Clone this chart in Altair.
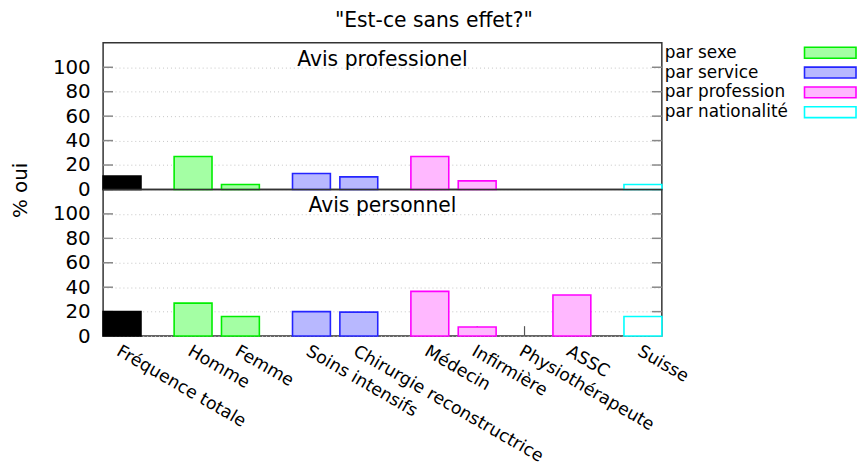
import json
import altair as alt
import pandas as pd

# ---------------- data ----------------
labels = ["Fréquence totale", "Homme", "Femme", "Soins intensifs",
          "Chirurgie reconstructrice", "Médecin", "Infirmière",
          "Physiothérapeute", "ASSC", "Suisse"]
groups = ["total", "par sexe", "par sexe", "par service", "par service",
          "par profession", "par profession", "par profession", "par profession",
          "par nationalité"]
avis_pro = [11, 27, 4, 13, 10.3, 27, 7, 0, 0, 4]
avis_perso = [20, 27, 16, 20, 19.6, 36.6, 7.4, 0, 33.6, 16]

group_names = ["total", "par sexe", "par service", "par profession", "par nationalité"]
fills = ["#000000", "#a4ffa4", "#b8b8ff", "#ffb8ff", "#ffffff"]
strokes = ["#000000", "#00ee00", "#2424ff", "#ff00ff", "#00ffff"]
legend_items = group_names[1:]
y_ticks = [0, 20, 40, 60, 80, 100]
panel_titles = ["Avis professionel", "Avis personnel"]
main_title = '"Est-ce sans effet?"'
y_title = "% oui"

# x positions (gap of 1.5 between groups, 1 inside a group)
pos = []
p = 0.0
for i, g in enumerate(groups):
    if i > 0:
        p += 1.0 if g == groups[i - 1] else 1.5
    pos.append(p)

df = pd.DataFrame({"label": labels, "group": groups, "pos": pos,
                   "pro": avis_pro, "perso": avis_perso})
ticks_df = pd.DataFrame({"t": y_ticks})
leg_df = pd.DataFrame({"group": legend_items})

label_map = json.dumps({f"{v:g}": l for v, l in zip(pos, labels)}, ensure_ascii=False)

W, H = 564, 148
FONT = "DejaVu Sans"

xscale = alt.Scale(domain=[-0.4, 11.4], nice=False, zero=False)
yscale = alt.Scale(domain=[0, 120], nice=False)
fill_scale = alt.Scale(domain=group_names, range=fills)
stroke_scale = alt.Scale(domain=group_names, range=strokes)


def make_yaxis(title):
    return alt.Axis(values=y_ticks, grid=True, gridDash=[1, 3], gridColor="#c4c4c4",
                    ticks=False, domain=False, labelFontSize=20, labelPadding=13,
                    labelColor="black", title=title, titleFontSize=20,
                    titleFontWeight="normal", titleColor="black", titleAngle=270,
                    titleX=-77, titleY=148.5, titleAlign="center",
                    titleBaseline="alphabetic")


def make_xaxis():
    return alt.Axis(values=pos, labelExpr=label_map + "[datum.value]", labelAngle=30,
                    labelAlign="left", labelBaseline="top", labelPadding=6,
                    labelFontSize=17.5, labelColor="black", labelOverlap=False,
                    labelFlush=False, labelBound=False, labelLimit=1000,
                    ticks=False, domain=False, grid=False, title=None)


def panel(field, title, bottom, ytitle, with_legend):
    yaxis = make_yaxis(ytitle)
    xaxis = make_xaxis() if bottom else None
    yax_other = None if with_legend else yaxis

    left_ticks = alt.Chart(ticks_df).mark_rule(color="#888888", strokeWidth=1.5).encode(
        y=alt.Y("t:Q", scale=yscale, axis=yaxis), x=alt.value(0), x2=alt.value(10))
    right_ticks = alt.Chart(ticks_df).mark_rule(color="#888888", strokeWidth=1.5).encode(
        y=alt.Y("t:Q", scale=yscale, axis=yax_other), x=alt.value(W - 10), x2=alt.value(W))

    bars = alt.Chart(df).transform_filter(f"datum.{field} > 0").transform_calculate(
        lo="datum.pos - 0.4", hi="datum.pos + 0.4"
    ).mark_bar(strokeWidth=1.6).encode(
        x=alt.X("lo:Q", scale=xscale, axis=xaxis),
        x2="hi:Q",
        y=alt.Y(f"{field}:Q", scale=yscale, axis=yax_other),
        y2=alt.datum(0),
        fill=alt.Fill("group:N", scale=fill_scale, legend=None),
        stroke=alt.Stroke("group:N", scale=stroke_scale, legend=None),
    )

    ttl = alt.Chart(pd.DataFrame({"t": [title]})).mark_text(
        fontSize=20.5, align="center", baseline="alphabetic", color="black"
    ).encode(text="t:N", x=alt.value(W / 2), y=alt.value(23))

    layers = [left_ticks, right_ticks]
    if bottom:
        xt = alt.Chart(df).mark_rule(color="#555555", strokeWidth=1.2).encode(
            x=alt.X("pos:Q", scale=xscale, axis=xaxis),
            y=alt.value(H - 10), y2=alt.value(H))
        layers.append(xt)
    layers += [bars, ttl]

    if with_legend:
        ly = alt.Y("group:N", sort=None, axis=None,
                   scale=alt.Scale(domain=legend_items, range=[0, 80],
                                   paddingInner=0, paddingOuter=0))
        leg_text = alt.Chart(leg_df).mark_text(
            align="left", baseline="middle", fontSize=17, color="black"
        ).encode(y=ly, x=alt.value(W + 3), text="group:N")
        leg_sw = alt.Chart(leg_df).mark_bar(size=11, strokeWidth=1.6).encode(
            y=ly, x=alt.value(W + 144), x2=alt.value(W + 196),
            fill=alt.Fill("group:N", scale=fill_scale, legend=None),
            stroke=alt.Stroke("group:N", scale=stroke_scale, legend=None))
        layers += [leg_text, leg_sw]
        return alt.layer(*layers).resolve_scale(y="independent").properties(
            width=W, height=H)
    return alt.layer(*layers).properties(width=W, height=H)


top = panel("pro", panel_titles[0], False, y_title, True)
bottom = panel("perso", panel_titles[1], True, None, False)

chart = alt.vconcat(top, bottom, spacing=0, bounds="flush").properties(
    title=alt.TitleParams(main_title, fontSize=20.5, fontWeight="normal",
                          anchor="middle", offset=11, color="black"),
    padding={"left": 2, "top": 0, "right": 0, "bottom": 0},
).configure(font=FONT).configure_view(stroke="#333333", strokeWidth=1.5)

chart.save("out.html", embed_options={"renderer": "svg", "actions": False})
